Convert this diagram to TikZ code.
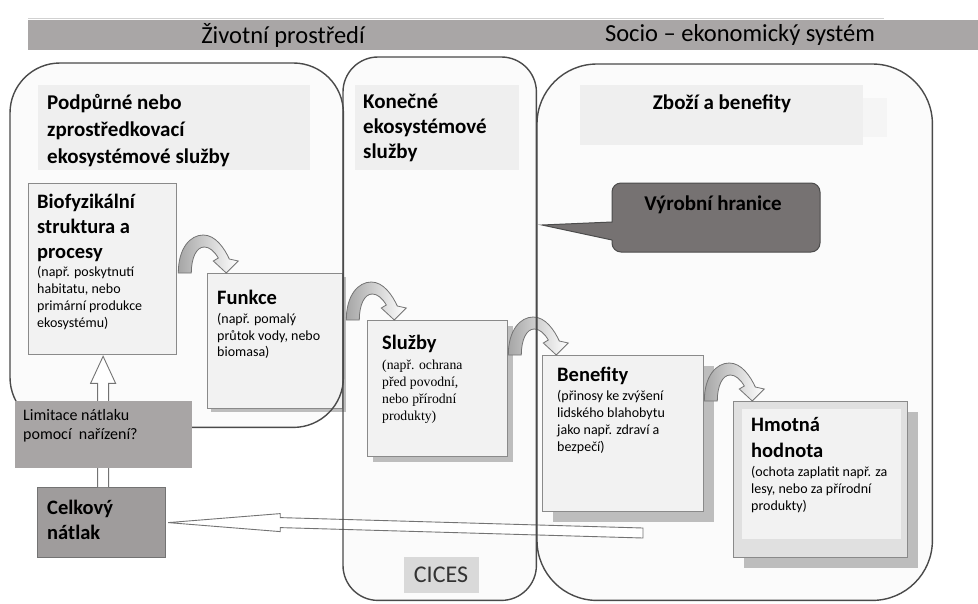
\documentclass[tikz,border=0pt]{standalone}
\usepackage{fontspec}
\setmainfont{Carlito}
\newfontfamily\serifF{Liberation Serif}
\usetikzlibrary{calc,shadows}
\definecolor{bannergray}{HTML}{A9A6A6}
\definecolor{bigfill}{HTML}{FBFBFB}
\definecolor{bigline}{HTML}{4A4A4A}
\definecolor{hdrfill}{HTML}{EFEFEF}
\definecolor{cardfill}{HTML}{F2F2F2}
\definecolor{cardline}{HTML}{8A8A8A}
\definecolor{shadowc}{HTML}{BDBDBD}
\definecolor{callfill}{HTML}{767272}
\definecolor{limfill}{HTML}{A8A5A5}
\definecolor{celkfill}{HTML}{9F9C9C}
\definecolor{cicesfill}{HTML}{D9D9D9}
\tikzset{
  bigfillst/.style={fill=bigfill, draw=none, anchor=north west, inner sep=0pt},
  bigborder/.style={draw=bigline, line width=1.4pt},
  hdr/.style={fill=hdrfill, draw=none, anchor=north west, inner sep=0pt},
  card/.style={draw=cardline, line width=1.3pt, fill=cardfill, anchor=north west, inner sep=0pt},
  bshadow/.style={drop shadow={shadow xshift=#1, shadow yshift=-#1, fill=shadowc, opacity=1}},
  ttl/.style={font=\fontsize{20.5}{25}\selectfont\bfseries, align=left, anchor=north west, inner sep=0pt},
  hdrtxt/.style={font=\fontsize{21}{27}\selectfont\bfseries, align=left, anchor=north west, inner sep=0pt},
  small/.style={font=\fontsize{14}{17}\selectfont, align=left, anchor=north west, inner sep=0pt},
  bannertxt/.style={font=\fontsize{24.5}{28}\selectfont, inner sep=0pt},
  blockarr/.style={draw=black!55, line width=0.9pt, fill=white},
  curv/.style={draw=black!55, line width=0.8pt, left color=black!35, right color=white},
  curvarrow/.pic={
    \path[curv] (0,0) .. controls (0,-25) and (12,-38) .. (25,-38)
      .. controls (37,-38) and (46,-25) .. (51,-14) -- (60,-12) -- (48,0)
      -- (35,-12) -- (40,-15) .. controls (36,-22) and (31,-26) .. (26,-26)
      .. controls (18,-26) and (13,-15) .. (13,0) -- cycle;
  }
}
\begin{document}
\begin{tikzpicture}[x=1pt,y=-1pt]
\useasboundingbox (0,0) rectangle (978,603);
% banner
\draw[black!18, line width=1pt] (28,18.5) -- (884,18.5);
\fill[bannergray] (28,20) rectangle (978,50);
\node[bannertxt] (env) at (283,35) {Životní prostředí};
\node[bannertxt] (soc) at (740,35) {Socio – ekonomický systém};
% big box fills
\node[bigfillst, minimum width=333pt, minimum height=364pt, rounded corners=50pt] (L) at (10,63) {};
\node[bigfillst, minimum width=193pt, minimum height=543pt, rounded corners=35pt] (M) at (343,57) {};
\node[bigfillst, minimum width=395pt, minimum height=536pt, rounded corners=60pt] (R) at (537,64) {};
% header panels
\node[hdr, minimum width=272pt, minimum height=85pt] (hL) at (38,85) {};
\node[hdr, minimum width=164pt, minimum height=85pt] (hM) at (355,85) {};
\fill[black!4] (580,98) rectangle (887,137);
\node[hdr, minimum width=283pt, minimum height=60pt] (hR) at (580,85) {};
% callout
\draw[draw=black!70, line width=1pt, fill=callfill] (612,240) -- (542,225) -- (612,222)
  [rounded corners=9pt] -- (612,183) -- (820,183) -- (820,252) -- (612,252) -- (612,240);
% cards
\node[card, minimum width=148pt, minimum height=171pt] (bio) at (28,183) {};
\node[card, bshadow=3pt, minimum width=135pt, minimum height=135pt] (fun) at (207,273) {};
\node[card, bshadow=5pt, minimum width=140pt, minimum height=136pt] (slu) at (367,320) {};
\node[card, bshadow=10pt, minimum width=161pt, minimum height=156pt] (ben) at (542,355) {};
\node[card, bshadow=10pt, fill=black!12, minimum width=174pt, minimum height=156pt] (hmo) at (733,401) {};
\fill[cardfill] ($(hmo.north west)+(9,8)$) rectangle ($(hmo.south east)+(-7,-19)$);
% curved arrows
\pic at ($(bio.east |- fun.north)+(1,0)$) {curvarrow};
\pic at ($(fun.east |- slu.north)+(3,0)$) {curvarrow};
\pic at (slu.east |- ben.north) {curvarrow};
\pic at (ben.east |- hmo.north) {curvarrow};
% total pressure and arrows
\node[draw=black!55, line width=1.2pt, fill=celkfill, anchor=north west, minimum width=128pt, minimum height=70pt, inner sep=0pt] (celk) at (37,487) {};
\coordinate (ub) at ($(celk.north)+(1.5,0)$);
\coordinate (ut) at ($(ub |- bio.south)+(0,1)$);
\draw[blockarr] ($(ub)+(-5.5,0)$) -- ($(ut)+(-5.5,27)$) -- ($(ut)+(-12.5,27)$) -- (ut)
  -- ($(ut)+(12.5,27)$) -- ($(ut)+(5.5,27)$) -- ($(ub)+(5.5,0)$);
\coordinate (pe) at (643,533);
\coordinate (ct) at ($(celk.east)+(2,0)$);
\draw[blockarr] (ct) -- ($(ct)+(112,-9)$) -- ($(ct)+(112,-5)$) -- ($(pe)+(0,-5)$)
  -- ($(pe)+(0,5)$) -- ($(ct)+(112,5)$) -- ($(ct)+(112,9)$) -- cycle;
% big box borders on top
\draw[bigborder, rounded corners=50pt] (L.north west) rectangle (L.south east);
\draw[bigborder, rounded corners=35pt] (M.north west) rectangle (M.south east);
\draw[bigborder, rounded corners=60pt] (R.north west) rectangle (R.south east);
% limitation box
\node[fill=limfill, anchor=north west, minimum width=177pt, minimum height=67pt, inner sep=0pt] (lim) at (15,401) {};
% texts
\node[hdrtxt] (hLt) at (47,94) {Podpůrné nebo\\zprostředkovací\\ekosystémové služby};
\node[hdrtxt, font=\fontsize{21}{25}\selectfont\bfseries] (hMt) at (363,94) {Konečné\\ekosystémové\\služby};
\node[font=\fontsize{21}{25}\selectfont\bfseries, inner sep=0pt] (hRt) at (722,104) {Zboží a benefity};
\node[font=\fontsize{21}{25}\selectfont\bfseries, inner sep=0pt] (vyr) at (713,205) {Výrobní hranice};
\node[ttl] (biot) at (37,193.5) {Biofyzikální\\struktura a\\procesy};
\node[small] (biod) at (37,266.5) {(např. poskytnutí\\habitatu, nebo\\primární produkce\\ekosystému)};
\node[ttl] (funt) at (217,289.5) {Funkce};
\node[small, font=\fontsize{14}{16.5}\selectfont] (fund) at (217,313.5) {(např. pomalý\\průtok vody, nebo\\biomasa)};
\node[ttl] (slut) at (382,334.5) {Služby};
\node[small, font=\serifF\fontsize{13.7}{17}\selectfont] (slud) at (382,359.5) {(např. ochrana\\před povodní,\\nebo přírodní\\produkty)};
\node[ttl] (bent) at (557,366.5) {Benefity};
\node[small, font=\fontsize{14}{16.7}\selectfont] (bend) at (557,390.5) {(přinosy ke zvýšení\\lidského blahobytu\\jako např. zdraví a\\bezpečí)};
\node[ttl, font=\fontsize{20.5}{26}\selectfont\bfseries] (hmot) at (751,417.5) {Hmotná\\hodnota};
\node[small] (hmod) at (751,466.5) {(ochota zaplatit např. za\\lesy, nebo za přírodní\\produkty)};
\node[font=\fontsize{16}{19}\selectfont, align=left, anchor=north west, inner sep=0pt] (limt) at (23,409.3) {Limitace nátlaku\\pomocí\ \ nařízení?};
\node[ttl] (celkt) at (47,499.5) {Celkový\\nátlak};
% CICES
\node[fill=cicesfill, minimum width=75pt, minimum height=36pt, inner sep=0pt, font=\fontsize{24}{26}\selectfont, text=black!80] (cices) at (441,575) {CICES};
\end{tikzpicture}
\end{document}
